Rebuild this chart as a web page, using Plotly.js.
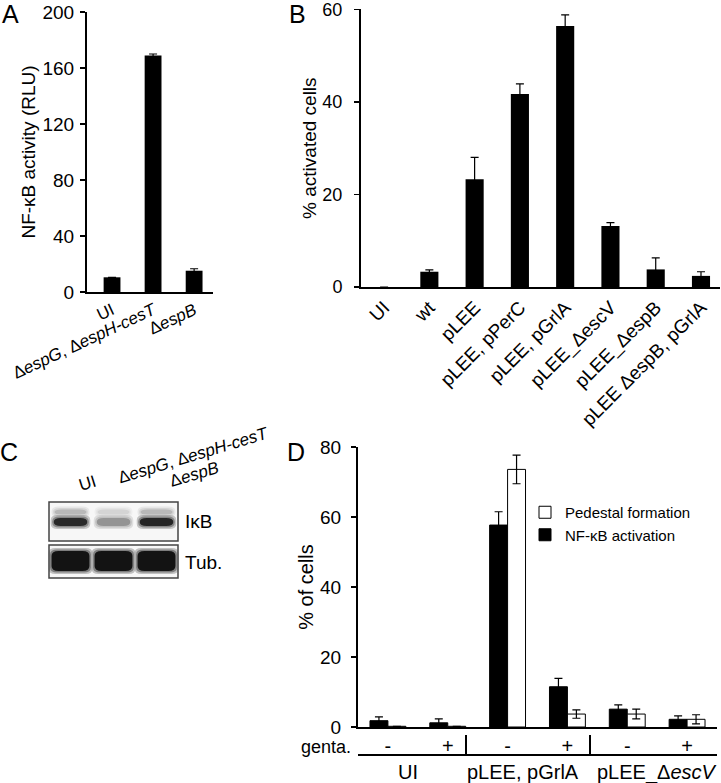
<!DOCTYPE html>
<html><head><meta charset="utf-8">
<script src="https://cdn.plot.ly/plotly-3.0.1.min.js"></script>
<style>html,body{margin:0;padding:0;background:#fff}#chart{width:721px;height:783px}</style>
</head><body><div id="chart"></div>
<script>
// ---------- Panel A ----------
const aCategories = ['UI', 'Δ<i>espG</i>, Δ<i>espH-cesT</i>', 'Δ<i>espB</i>'];
const aValues = [10.5, 169, 15.2];
const aErrors = [0, 1, 1.4];
const aTicks = [0, 40, 80, 120, 160, 200];
const aTitle = 'NF-κB activity (RLU)';

// ---------- Panel B ----------
const bCategories = ['UI', 'wt', 'pLEE', 'pLEE, pPerC', 'pLEE, pGrlA', 'pLEE_ΔescV', 'pLEE_ΔespB', 'pLEE ΔespB, pGrlA'];
const bValues = [0, 3.3, 23.3, 41.7, 56.4, 13.2, 3.8, 2.4];
const bErrors = [0, 0.4, 4.7, 2.2, 2.4, 0.7, 2.5, 0.9];
const bTicks = [0, 20, 40, 60];
const bTitle = '% activated cells';

// ---------- Panel C (western blot, band intensity 0..1) ----------
const cLanes = ['UI', 'Δ<i>espG</i>, Δ<i>espH-cesT</i>', 'Δ<i>espB</i>'];
const cIkB = [0.9, 0.45, 0.92];
const cIkBUpper = [0.3, 0.18, 0.3];
const cTub = [1, 1, 1];
const cBandLabels = ['IκB', 'Tub.'];

// ---------- Panel D ----------
const dGroups = ['UI', 'pLEE, pGrlA', 'pLEE_Δ<i>escV</i>'];
const dGenta = ['-', '+', '-', '+', '-', '+'];
const dNFkB = [1.8, 1.2, 57.7, 11.5, 5.1, 2.2];
const dNFkBErr = [1.1, 1.1, 3.8, 2.4, 1.2, 1.0];
const dPedestal = [0.2, 0.2, 73.6, 3.7, 3.7, 2.2];
const dPedestalErr = [0, 0, 4.1, 1.2, 1.4, 1.3];
const dSeries = ['NF-κB activation', 'Pedestal formation'];
const dTicks = [0, 20, 40, 60, 80];
const dTitle = '% of cells';
const dGentaLabel = 'genta.';

// ---------- helpers ----------
const W = 721, H = 783;
const F = 'Liberation Sans, Arial, sans-serif';
const px = x => x / W;
const py = y => 1 - y / H;
const fnt = s => ({family: F, size: s, color: '#000'});
const errBar = arr => ({type: 'data', array: arr, visible: true, color: '#000', thickness: 1.2, width: 4});
const xBase = {showline: true, linecolor: '#000', linewidth: 2, showgrid: false, zeroline: false, ticks: '', ticklabeloverflow: 'allow'};
const yBase = {showline: true, linecolor: '#000', linewidth: 2, showgrid: false, zeroline: false,
  ticks: 'outside', ticklen: 5, tickwidth: 1.5, tickcolor: '#000', ticklabeloverflow: 'allow'};

const dIdx = dGenta.map((_, i) => i);

const traces = [
  {type: 'bar', x: aCategories, y: aValues, xaxis: 'x', yaxis: 'y', width: 0.41,
   marker: {color: '#000', line: {width: 0}}, error_y: errBar(aErrors), showlegend: false, hoverinfo: 'skip'},
  {type: 'bar', x: bCategories, y: bValues, xaxis: 'x2', yaxis: 'y2', width: 0.4,
   marker: {color: '#000', line: {width: 0}}, error_y: errBar(bErrors), showlegend: false, hoverinfo: 'skip'},
  {type: 'bar', name: dSeries[0], x: dIdx, y: dNFkB, xaxis: 'x3', yaxis: 'y3', offset: -0.3, width: 0.3,
   marker: {color: '#000', line: {color: '#000', width: 1}}, error_y: errBar(dNFkBErr), showlegend: true, hoverinfo: 'skip'},
  {type: 'bar', name: dSeries[1], x: dIdx, y: dPedestal, xaxis: 'x3', yaxis: 'y3', offset: 0, width: 0.3,
   marker: {color: '#fff', line: {color: '#000', width: 1}}, error_y: errBar(dPedestalErr), showlegend: true, hoverinfo: 'skip'}
];

// ---------- blot shapes (panel C) ----------
function rrect(x0, x1, y0, y1, rx, ry) {
  return `M${x0 + rx},${y0} L${x1 - rx},${y0} Q${x1},${y0} ${x1},${y0 + ry} L${x1},${y1 - ry} Q${x1},${y1} ${x1 - rx},${y1} L${x0 + rx},${y1} Q${x0},${y1} ${x0},${y1 - ry} L${x0},${y0 + ry} Q${x0},${y0} ${x0 + rx},${y0} Z`;
}
const LANE_PX = 43;
function band(laneIdx, yc, halfWLane, halfH, intensity) {
  const g = Math.round(255 * (1 - intensity));
  const col = `rgb(${g},${g},${g})`;
  const out = [];
  const layers = [[3, 0.22], [1.5, 0.35], [0, 0.85]];
  layers.forEach(([e, op]) => {
    const xc = laneIdx + 0.5;
    const hw = halfWLane + e / LANE_PX, hh = halfH + e;
    out.push({type: 'path', xref: 'x4', yref: 'y4', layer: 'above',
      path: rrect(xc - hw, xc + hw, yc - hh, yc + hh, Math.min(hw, 7 / LANE_PX), Math.min(hh, 5)),
      fillcolor: col, opacity: op, line: {width: 0}});
  });
  return out;
}
const shapes = [];
shapes.push({type: 'rect', xref: 'x4', yref: 'y4', x0: 0, x1: 3, y0: 37, y1: 76, fillcolor: '#f7f7f7', line: {width: 0}, layer: 'above'});
shapes.push({type: 'rect', xref: 'x4', yref: 'y4', x0: 0, x1: 3, y0: 0, y1: 33, fillcolor: '#f7f7f7', line: {width: 0}, layer: 'above'});
cLanes.forEach((_, i) => {
  shapes.push(...band(i, 66, 0.37, 2.5, cIkBUpper[i]));
  shapes.push(...band(i, 56, 0.39, 4, cIkB[i]));
  shapes.push(...band(i, 17, 0.44, 10, cTub[i]));
});
shapes.push({type: 'rect', xref: 'x4', yref: 'y4', x0: 0, x1: 3, y0: 37, y1: 76, line: {color: '#444', width: 1.5}, layer: 'above'});
shapes.push({type: 'rect', xref: 'x4', yref: 'y4', x0: 0, x1: 3, y0: 0, y1: 33, line: {color: '#444', width: 1.5}, layer: 'above'});
// panel D group brackets
shapes.push({type: 'line', xref: 'paper', yref: 'paper', x0: px(358), x1: px(717), y0: py(755), y1: py(755), line: {color: '#000', width: 2}});
[466, 590].forEach(xp => shapes.push({type: 'line', xref: 'paper', yref: 'paper', x0: px(xp), x1: px(xp), y0: py(735), y1: py(755), line: {color: '#000', width: 2}}));

// ---------- annotations ----------
const ann = [];
const letter = (t, x, y) => ({text: t, xref: 'paper', yref: 'paper', x: px(x), y: py(y), xanchor: 'center', yanchor: 'middle', showarrow: false, font: fnt(25)});
ann.push(letter('A', 10, 14), letter('B', 297, 14), letter('C', 9, 452), letter('D', 296, 452));
const bandLabelY = [521, 562];
cBandLabels.forEach((t, i) => ann.push({text: t, xref: 'paper', yref: 'paper', x: px(183), y: py(bandLabelY[i]), xanchor: 'left', yanchor: 'middle', showarrow: false, font: fnt(19)}));
const laneLabelPos = [[87, 483], [193, 455], [194, 474]];
cLanes.forEach((t, i) => ann.push({text: t, xref: 'paper', yref: 'paper', x: px(laneLabelPos[i][0]), y: py(laneLabelPos[i][1]), xanchor: 'center', yanchor: 'middle', textangle: -17, showarrow: false, font: fnt(17)}));
ann.push({text: dGentaLabel, xref: 'paper', yref: 'paper', x: px(353), y: py(747), xanchor: 'right', yanchor: 'middle', showarrow: false, font: fnt(18)});
const groupX = [408, 523, 657];
dGroups.forEach((t, i) => ann.push({text: t, xref: 'paper', yref: 'paper', x: px(groupX[i]), y: py(772), xanchor: 'center', yanchor: 'middle', showarrow: false, font: fnt(20)}));

const layout = {
  width: W, height: H, autosize: false,
  margin: {l: 0, r: 0, t: 0, b: 0},
  paper_bgcolor: '#fff', plot_bgcolor: 'rgba(0,0,0,0)',
  font: fnt(16),
  barmode: 'overlay',
  showlegend: true,
  legend: {x: px(525), y: py(496), xanchor: 'left', yanchor: 'top', traceorder: 'reversed', bgcolor: 'rgba(0,0,0,0)',
    font: fnt(15), itemwidth: 30, tracegroupgap: 0},
  xaxis: Object.assign({}, xBase, {domain: [px(87), px(213)], anchor: 'y', type: 'category', range: [-0.61, 2.46], tickangle: -25, tickfont: fnt(17)}),
  yaxis: Object.assign({}, yBase, {domain: [py(292), py(12)], anchor: 'x', range: [0, 200], tickvals: aTicks, tickfont: fnt(19), ticklabelstandoff: 2,
    title: {text: aTitle, font: fnt(19), standoff: 2}}),
  xaxis2: Object.assign({}, xBase, {domain: [px(361), px(720)], anchor: 'y2', type: 'category', range: [-0.51, 7.42], tickangle: -45, tickfont: fnt(19)}),
  yaxis2: Object.assign({}, yBase, {domain: [py(287), py(9.3)], anchor: 'x2', range: [0, 60], tickvals: bTicks, tickfont: fnt(18), ticklabelstandoff: 8,
    title: {text: bTitle, font: fnt(19), standoff: 1}}),
  xaxis3: Object.assign({}, xBase, {domain: [px(358), px(717)], anchor: 'y3', range: [-0.5, 5.5], tickvals: dIdx, ticktext: dGenta, tickangle: 0, tickfont: fnt(20)}),
  yaxis3: Object.assign({}, yBase, {domain: [py(727), py(447)], anchor: 'x3', range: [0, 80], tickvals: dTicks, tickfont: fnt(19), ticklabelstandoff: 6,
    title: {text: dTitle, font: fnt(20), standoff: 1}}),
  xaxis4: {domain: [px(47), px(180)], anchor: 'y4', range: [-2 / LANE_PX, 3 + 2 / LANE_PX], visible: false, fixedrange: true},
  yaxis4: {domain: [py(580), py(500)], anchor: 'x4', range: [-2, 78], visible: false, fixedrange: true},
  shapes: shapes,
  annotations: ann
};

Plotly.newPlot('chart', traces, layout, {displayModeBar: false, staticPlot: true});
</script>
</body></html>
